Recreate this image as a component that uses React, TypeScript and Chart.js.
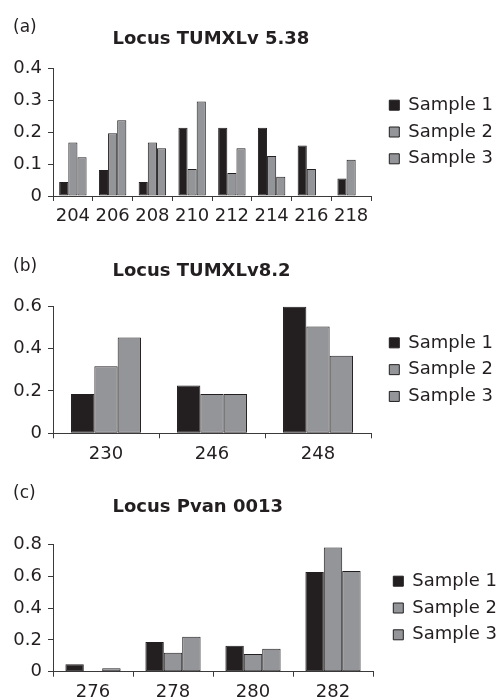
import React, { useEffect, useRef } from 'react';
import { Chart, registerables } from 'chart.js';

Chart.register(...registerables);

const FONT = "'DejaVu Sans', sans-serif";
const INK = '#231f20';
const GREY = '#939598';
const AXIS = '#3a3a3a';
const CANVAS_W = 496;

const seriesNames = ['Sample 1', 'Sample 2', 'Sample 3'];

// Panel (a) Locus TUMXLv 5.38
const allelesA = ['204', '206', '208', '210', '212', '214', '216', '218'];
const sample1A = [0.044, 0.081, 0.044, 0.213, 0.213, 0.213, 0.158, 0.055];
const sample2A = [0.167, 0.196, 0.167, 0.084, 0.072, 0.125, 0.084, 0.113];
const sample3A = [0.121, 0.237, 0.149, 0.295, 0.149, 0.06, 0, 0];

// Panel (b) Locus TUMXLv8.2
const allelesB = ['230', '246', '248'];
const sample1B = [0.185, 0.225, 0.597];
const sample2B = [0.316, 0.185, 0.503];
const sample3B = [0.452, 0.185, 0.366];

// Panel (c) Locus Pvan 0013
const allelesC = ['276', '278', '280', '282'];
const sample1C = [0.046, 0.186, 0.163, 0.626];
const sample2C = [0, 0.119, 0.111, 0.78];
const sample3C = [0.021, 0.22, 0.144, 0.632];

// Draws the panel letter and the locus title (left aligned like the original figure).
const panelText = {
  id: 'panelText',
  afterDraw(chart: any, _args: any, opts: any) {
    const ctx = chart.ctx;
    ctx.save();
    ctx.fillStyle = INK;
    ctx.textBaseline = 'alphabetic';
    ctx.textAlign = 'left';
    ctx.font = `17px ${FONT}`;
    ctx.fillText(opts.label, 13, opts.labelY);
    ctx.font = `bold 18px ${FONT}`;
    ctx.fillText(opts.title, 112.5, opts.titleY);
    ctx.restore();
  },
};

// Gives the built-in legend a fixed width and a gap from the plot area.
const legendGap = {
  id: 'legendGap',
  beforeLayout(chart: any, _args: any, opts: any) {
    const lg = chart.legend;
    if (!lg || lg.__gapPatched) return;
    lg.__gapPatched = true;
    const fit = lg.fit;
    lg.fit = function () {
      fit.call(this);
      this.width = opts.width;
    };
    const draw = lg.draw;
    lg.draw = function (...a: any[]) {
      this.left += opts.gap;
      draw.apply(this, a);
      this.left -= opts.gap;
    };
  },
};

type PanelDef = {
  top: number;
  height: number;
  label: string;
  labelY: number;
  title: string;
  titleY: number;
  categories: string[];
  s1: number[];
  s2: number[];
  s3: number[];
  yMax: number;
  yStep: number;
  catPct: number;
  padTop: number;
  xHeight: number;
  legendWidth: number;
  legendGap: number;
};

const panels: PanelDef[] = [
  {
    top: 0, height: 230, label: '(a)', labelY: 32, title: 'Locus TUMXLv 5.38', titleY: 43.5,
    categories: allelesA, s1: sample1A, s2: sample2A, s3: sample3A,
    yMax: 0.4, yStep: 0.1, catPct: 0.69, padTop: 68, xHeight: 34, legendWidth: 125, legendGap: 9.5,
  },
  {
    top: 230, height: 232, label: '(b)', labelY: 40.5, title: 'Locus TUMXLv8.2', titleY: 46,
    categories: allelesB, s1: sample1B, s2: sample2B, s3: sample3B,
    yMax: 0.6, yStep: 0.2, catPct: 0.66, padTop: 76, xHeight: 28.7, legendWidth: 125, legendGap: 9.5,
  },
  {
    top: 462, height: 238, label: '(c)', labelY: 35.7, title: 'Locus Pvan 0013', titleY: 50,
    categories: allelesC, s1: sample1C, s2: sample2C, s3: sample3C,
    yMax: 0.8, yStep: 0.2, catPct: 0.69, padTop: 82.3, xHeight: 28.3, legendWidth: 123, legendGap: 11.5,
  },
];

function makeConfig(p: PanelDef): any {
  const colors = [INK, GREY, GREY];
  const values = [p.s1, p.s2, p.s3];
  return {
    type: 'bar',
    data: {
      labels: p.categories,
      datasets: seriesNames.map((name, i) => ({
        label: name,
        data: values[i],
        backgroundColor: colors[i],
        borderColor: INK,
        borderWidth: 1,
        borderSkipped: false,
        barPercentage: 1,
        categoryPercentage: p.catPct,
      })),
    },
    plugins: [panelText, legendGap],
    options: {
      responsive: false,
      animation: false,
      layout: { padding: { top: p.padTop, left: 12, right: 0, bottom: 0 } },
      plugins: {
        title: { display: false },
        tooltip: { enabled: false },
        legend: {
          display: true,
          position: 'right',
          fullSize: false,
          labels: {
            color: INK,
            font: { family: FONT, size: 18 },
            boxWidth: 10,
            boxHeight: 10,
            padding: 8.8,
          },
        },
        legendGap: { width: p.legendWidth, gap: p.legendGap },
        panelText: { label: p.label, labelY: p.labelY, title: p.title, titleY: p.titleY },
      },
      scales: {
        x: {
          type: 'category',
          offset: true,
          grid: {
            display: true,
            offset: true,
            drawOnChartArea: false,
            drawTicks: true,
            tickLength: 5,
            tickColor: AXIS,
            lineWidth: 1,
          },
          border: { display: true, color: AXIS, width: 1 },
          ticks: { color: INK, font: { family: FONT, size: 18 }, padding: 5, maxRotation: 0, autoSkip: false },
          afterFit: (s: any) => { s.height = p.xHeight; },
        },
        y: {
          type: 'linear',
          min: 0,
          max: p.yMax,
          grid: {
            display: true,
            drawOnChartArea: false,
            drawTicks: true,
            tickLength: 5,
            tickColor: AXIS,
            lineWidth: 1,
          },
          border: { display: true, color: AXIS, width: 1 },
          ticks: { stepSize: p.yStep, color: INK, font: { family: FONT, size: 18 }, padding: 6 },
          afterFit: (s: any) => { s.width = 41; },
        },
      },
    },
  };
}

function PanelChart({ p }: { p: PanelDef }) {
  const ref = useRef<HTMLCanvasElement | null>(null);
  useEffect(() => {
    if (!ref.current) return;
    const chart = new Chart(ref.current, makeConfig(p));
    return () => chart.destroy();
  }, [p]);
  return (
    <canvas
      ref={ref}
      width={CANVAS_W}
      height={p.height}
      style={{ position: 'absolute', left: 0, top: p.top, width: CANVAS_W, height: p.height }}
    />
  );
}

export default function App() {
  return (
    <div
      style={{
        position: 'absolute',
        left: 0,
        top: 0,
        width: 496,
        height: 700,
        overflow: 'hidden',
        background: '#ffffff',
      }}
    >
      {panels.map((p) => (
        <PanelChart key={p.label} p={p} />
      ))}
    </div>
  );
}
